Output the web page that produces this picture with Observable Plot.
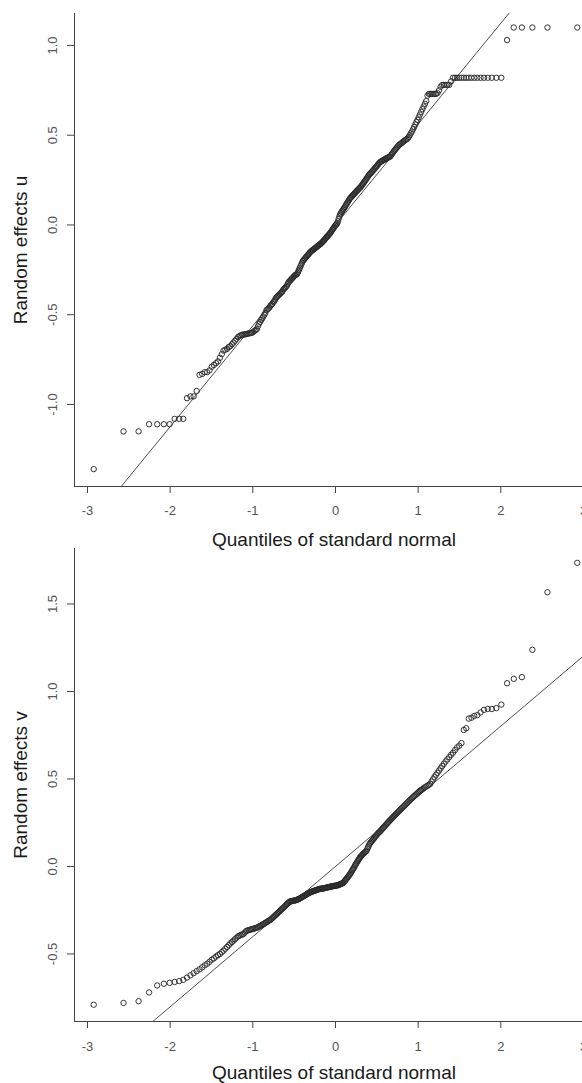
<!DOCTYPE html>
<html>
<head>
<meta charset="utf-8">
<script src="https://cdn.jsdelivr.net/npm/d3@7"></script>
<script src="https://cdn.jsdelivr.net/npm/@observablehq/plot@0.6"></script>
<style>
  html, body { margin: 0; padding: 0; background: white; overflow: hidden; }
  #wrap { width: 582px; height: 1083px; overflow: hidden; position: relative; background: white; }
  #top, #bottom { width: 582px; overflow: visible; position: relative; }
  #top { z-index: 2; }
  #bottom { z-index: 1; }
  svg { display: block; overflow: visible; }
</style>
</head>
<body>
<div id="wrap"><div id="top"></div><div id="bottom"></div></div>
<script>
// ---- data ----
const xTicks = [-3, -2, -1, 0, 1, 2, 3];
const uTicks = [-1.0, -0.5, 0.0, 0.5, 1.0];
const vTicks = [-0.5, 0.0, 0.5, 1.0, 1.5];

// sorted random effects u (sample quantiles), n = 290
const uValues = [
  -1.36,-1.15,-1.15,-1.11,-1.11,-1.11,-1.11,-1.08,-1.08,-1.08,
  -0.965,-0.955,-0.955,-0.925,-0.835,-0.83,-0.82,-0.82,-0.81,-0.79,
  -0.78,-0.77,-0.76,-0.74,-0.72,-0.70,-0.695,-0.69,-0.68,-0.675,
  -0.665,-0.655,-0.645,-0.635,-0.625,-0.62,-0.615,-0.612,-0.61,-0.61,
  -0.608,-0.606,-0.605,-0.603,-0.602,-0.60,-0.595,-0.59,-0.585,-0.58,
  -0.565,-0.55,-0.54,-0.53,-0.52,-0.51,-0.50,-0.49,-0.475,-0.47,
  -0.465,-0.46,-0.45,-0.445,-0.44,-0.43,-0.425,-0.415,-0.405,-0.40,
  -0.395,-0.39,-0.385,-0.38,-0.375,-0.37,-0.36,-0.355,-0.35,-0.345,
  -0.34,-0.33,-0.32,-0.315,-0.31,-0.305,-0.30,-0.295,-0.29,-0.285,
  -0.28,-0.278,-0.275,-0.27,-0.26,-0.25,-0.24,-0.23,-0.22,-0.21,
  -0.20,-0.195,-0.19,-0.185,-0.18,-0.175,-0.17,-0.165,-0.16,-0.155,
  -0.15,-0.146,-0.143,-0.14,-0.137,-0.134,-0.13,-0.127,-0.124,-0.12,
  -0.117,-0.114,-0.11,-0.107,-0.105,-0.10,-0.096,-0.092,-0.088,-0.083,
  -0.078,-0.073,-0.068,-0.064,-0.06,-0.055,-0.05,-0.046,-0.04,-0.034,
  -0.028,-0.022,-0.016,-0.01,-0.004,0.0,0.005,0.01,0.02,0.035,
  0.048,0.058,0.065,0.072,0.078,0.085,0.09,0.097,0.103,0.11,
  0.117,0.124,0.13,0.137,0.143,0.15,0.154,0.158,0.163,0.167,
  0.171,0.176,0.18,0.185,0.19,0.194,0.198,0.203,0.207,0.21,
  0.216,0.222,0.228,0.234,0.24,0.246,0.252,0.258,0.265,0.271,
  0.277,0.283,0.287,0.292,0.297,0.302,0.307,0.312,0.318,0.323,
  0.328,0.334,0.34,0.345,0.35,0.353,0.356,0.358,0.361,0.364,
  0.367,0.37,0.372,0.375,0.377,0.379,0.382,0.39,0.397,0.404,
  0.411,0.418,0.424,0.431,0.437,0.443,0.448,0.452,0.456,0.461,
  0.465,0.47,0.474,0.478,0.481,0.49,0.50,0.51,0.52,0.533,
  0.546,0.56,0.573,0.585,0.60,0.615,0.63,0.645,0.66,0.675,
  0.69,0.72,0.73,0.73,0.73,0.73,0.73,0.73,0.735,0.75,
  0.77,0.78,0.78,0.78,0.78,0.78,0.80,0.82,0.82,0.82,
  0.82,0.82,0.82,0.82,0.82,0.82,0.82,0.82,0.82,0.82,
  0.82,0.82,0.82,0.82,1.03,1.10,1.10,1.10,1.10,1.10
];

// sorted random effects v (sample quantiles), n = 290
const vValues = [
  -0.79,-0.78,-0.77,-0.72,-0.68,-0.67,-0.665,-0.66,-0.655,-0.648,
  -0.635,-0.622,-0.61,-0.598,-0.588,-0.576,-0.565,-0.556,-0.545,-0.533,
  -0.525,-0.515,-0.507,-0.50,-0.49,-0.481,-0.47,-0.46,-0.45,-0.44,
  -0.432,-0.424,-0.416,-0.408,-0.40,-0.396,-0.392,-0.389,-0.386,-0.378,
  -0.37,-0.366,-0.364,-0.362,-0.36,-0.358,-0.356,-0.354,-0.352,-0.35,
  -0.347,-0.343,-0.34,-0.337,-0.333,-0.33,-0.326,-0.322,-0.319,-0.315,
  -0.311,-0.308,-0.305,-0.30,-0.295,-0.29,-0.285,-0.28,-0.275,-0.27,
  -0.265,-0.26,-0.255,-0.25,-0.245,-0.24,-0.237,-0.232,-0.227,-0.222,
  -0.217,-0.212,-0.207,-0.203,-0.20,-0.199,-0.198,-0.197,-0.196,-0.195,
  -0.194,-0.193,-0.191,-0.19,-0.188,-0.186,-0.183,-0.18,-0.178,-0.175,
  -0.172,-0.17,-0.167,-0.165,-0.162,-0.159,-0.156,-0.154,-0.152,-0.15,
  -0.147,-0.145,-0.144,-0.142,-0.141,-0.139,-0.138,-0.136,-0.135,-0.133,
  -0.132,-0.13,-0.129,-0.128,-0.127,-0.127,-0.126,-0.126,-0.125,-0.124,
  -0.123,-0.122,-0.121,-0.12,-0.119,-0.118,-0.117,-0.116,-0.115,-0.114,
  -0.113,-0.113,-0.112,-0.111,-0.11,-0.11,-0.109,-0.108,-0.107,-0.105,
  -0.104,-0.102,-0.10,-0.099,-0.097,-0.094,-0.09,-0.085,-0.08,-0.075,
  -0.07,-0.064,-0.059,-0.053,-0.048,-0.042,-0.035,-0.028,-0.021,-0.014,
  -0.008,0.0,0.008,0.015,0.022,0.029,0.036,0.043,0.05,0.055,
  0.06,0.065,0.07,0.074,0.078,0.082,0.086,0.09,0.10,0.11,
  0.12,0.13,0.135,0.141,0.147,0.152,0.158,0.164,0.17,0.175,
  0.181,0.187,0.192,0.197,0.20,0.206,0.211,0.217,0.222,0.228,
  0.233,0.239,0.244,0.25,0.255,0.261,0.266,0.271,0.276,0.282,
  0.287,0.293,0.298,0.304,0.309,0.315,0.32,0.326,0.332,0.337,
  0.343,0.348,0.354,0.36,0.366,0.372,0.378,0.384,0.39,0.396,
  0.402,0.408,0.414,0.42,0.426,0.432,0.437,0.442,0.447,0.452,
  0.457,0.462,0.467,0.472,0.485,0.498,0.511,0.524,0.535,0.548,
  0.561,0.574,0.587,0.60,0.612,0.625,0.638,0.65,0.665,0.68,
  0.69,0.705,0.78,0.79,0.845,0.85,0.86,0.865,0.88,0.895,
  0.90,0.90,0.905,0.925,1.047,1.072,1.082,1.238,1.567,1.735
];

// reference (qqline) lines: [intercept, slope]
const uLine = [0.0, 0.562];
const vLine = [0.0, 0.401];

const xDomain = [-3.157, 3.121];
const uDomain = [-1.457, 1.178];
const vDomain = [-0.886, 1.817];

// theoretical normal quantile (inverse CDF, Acklam) for the Q-Q x positions
function qnorm(p) {
  const a = [-3.969683028665376e+01, 2.209460984245205e+02, -2.759285104469687e+02, 1.383577518672690e+02, -3.066479806614716e+01, 2.506628277459239e+00];
  const b = [-5.447609879822406e+01, 1.615858368580409e+02, -1.556989798598866e+02, 6.680131188771972e+01, -1.328068155288572e+01];
  const c = [-7.784894002430293e-03, -3.223964580411365e-01, -2.400758277161838e+00, -2.549671010739138e+00, 4.374664141464968e+00, 2.938163982698783e+00];
  const d = [7.784695709041462e-03, 3.224671290700398e-01, 2.445134137142996e+00, 3.754408661907416e+00];
  const plow = 0.02425, phigh = 1 - plow;
  if (p < plow) {
    const q = Math.sqrt(-2 * Math.log(p));
    return (((((c[0]*q+c[1])*q+c[2])*q+c[3])*q+c[4])*q+c[5]) / ((((d[0]*q+d[1])*q+d[2])*q+d[3])*q+1);
  }
  if (p <= phigh) {
    const q = p - 0.5, r = q * q;
    return (((((a[0]*r+a[1])*r+a[2])*r+a[3])*r+a[4])*r+a[5])*q / (((((b[0]*r+b[1])*r+b[2])*r+b[3])*r+b[4])*r+1);
  }
  const q = Math.sqrt(-2 * Math.log(1 - p));
  return -(((((c[0]*q+c[1])*q+c[2])*q+c[3])*q+c[4])*q+c[5]) / ((((d[0]*q+d[1])*q+d[2])*q+d[3])*q+1);
}

const FONT = "'Liberation Sans', Arial, Helvetica, sans-serif";

function qqPlot({values, line, yDomain, yTicks, ylabel, height, marginTop, marginBottom, xLabelDy, titleDy}) {
  const n = values.length;
  const pts = values.map((v, i) => ({x: qnorm((i + 0.5) / n), y: v}));
  const [a, b] = line;
  const ends = xDomain.map(x => ({x, y: a + b * x}));
  return Plot.plot({
    width: 582,
    height,
    marginLeft: 74,
    marginRight: 0,
    marginTop,
    marginBottom,
    x: {domain: xDomain, range: [74, 593]},
    y: {domain: yDomain},
    style: {fontFamily: FONT, background: "transparent", color: "#333", overflow: "visible"},
    marks: [
      Plot.line(ends, {x: "x", y: "y", stroke: "#3a3a3a", strokeWidth: 0.9, clip: true}),
      Plot.dot(pts, {x: "x", y: "y", r: 2.7, stroke: "#2a2a2a", strokeWidth: 0.95, fill: "none"}),
      Plot.ruleX([xDomain[0]], {stroke: "#444", strokeWidth: 1}),
      Plot.ruleY([yDomain[0]], {stroke: "#444", strokeWidth: 1}),
      Plot.axisX(xTicks, {tickSize: 7, stroke: "#444", fill: "none", label: null}),
      Plot.axisY(yTicks, {tickSize: 7, stroke: "#444", fill: "none", label: null}),
      Plot.text(xTicks, {x: d => d, frameAnchor: "bottom", dy: xLabelDy, text: d => String(d),
        textAnchor: "middle", lineAnchor: "middle", fontSize: 13, fill: "#555"}),
      Plot.text(yTicks, {y: d => d, frameAnchor: "left", dx: -22, rotate: -90, text: d => d.toFixed(1),
        textAnchor: "middle", lineAnchor: "middle", fontSize: 13, fill: "#555"}),
      Plot.text(["Quantiles of standard normal"], {frameAnchor: "bottom", dx: 5.5, dy: titleDy,
        textAnchor: "middle", lineAnchor: "middle", fontSize: 19, fill: "#1a1a1a"}),
      Plot.text([ylabel], {frameAnchor: "left", dx: -53.5, rotate: -90,
        textAnchor: "middle", lineAnchor: "middle", fontSize: 19, fill: "#1a1a1a"})
    ]
  });
}

document.getElementById("top").append(qqPlot({
  values: uValues, line: uLine, yDomain: uDomain, yTicks: uTicks, ylabel: "Random effects u",
  height: 541, marginTop: 13, marginBottom: 55, xLabelDy: 24.5, titleDy: 53.5
}));
document.getElementById("bottom").append(qqPlot({
  values: vValues, line: vLine, yDomain: vDomain, yTicks: vTicks, ylabel: "Random effects v",
  height: 542, marginTop: 7, marginBottom: 62, xLabelDy: 25.5, titleDy: 51.5
}));
</script>
</body>
</html>
